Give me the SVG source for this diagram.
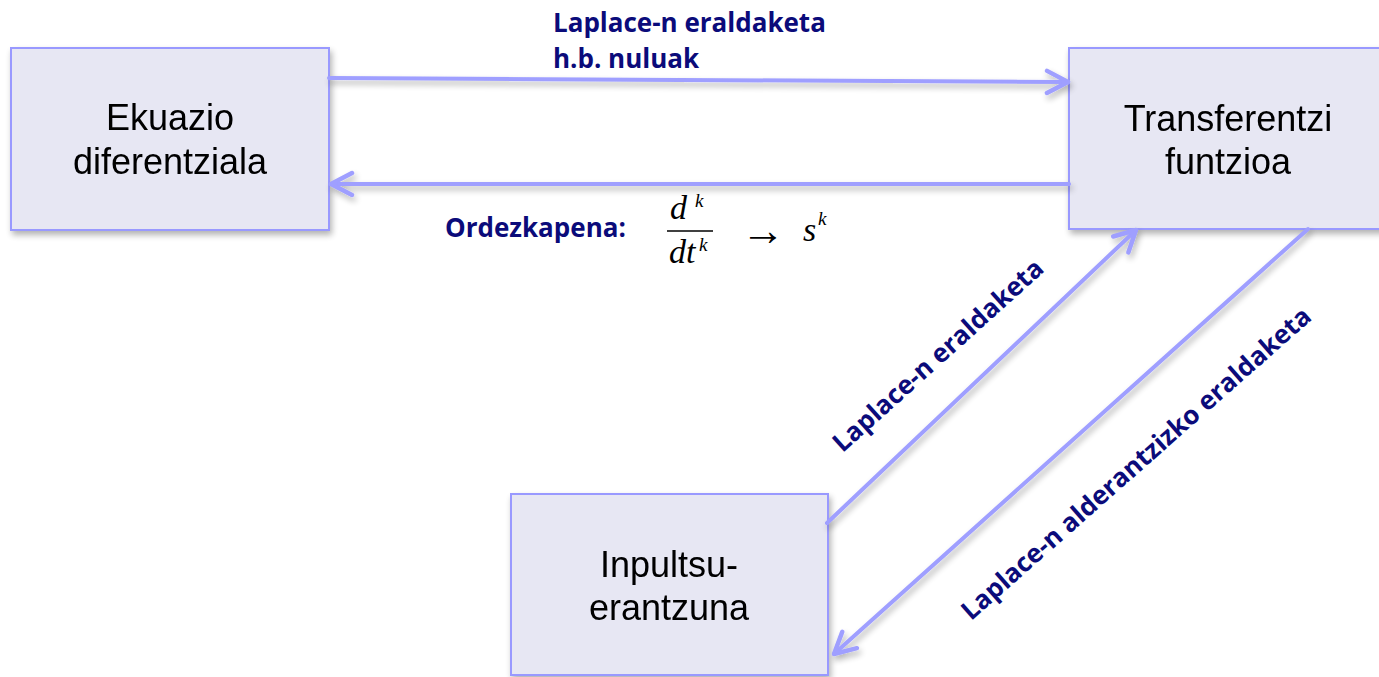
<svg xmlns="http://www.w3.org/2000/svg" width="1379" height="677" viewBox="0 0 1379 677">
  <defs>
    <style>
      .box { fill: #e7e7f3; stroke: #9999ff; stroke-width: 2; }
      .node-text { font-family: "Liberation Sans", Arial, sans-serif; font-size: 36px; fill: #000; text-anchor: middle; }
      .edge { stroke: #9f9fff; stroke-width: 4; stroke-linecap: round; fill: none; marker-end: url(#chevron); }
      .label { font-family: "Open Sans", "Liberation Sans", sans-serif; font-weight: bold; font-size: 26px; fill: #0b0b7a; }
      .math { font-family: "Liberation Serif", "Times New Roman", serif; font-style: italic; fill: #000; }
    </style>
    <filter id="shadow" x="-10%" y="-10%" width="130%" height="140%">
      <feGaussianBlur in="SourceAlpha" stdDeviation="3"/>
      <feOffset dx="2" dy="4" result="off"/>
      <feComponentTransfer><feFuncA type="linear" slope="0.3"/></feComponentTransfer>
      <feMerge><feMergeNode/><feMergeNode in="SourceGraphic"/></feMerge>
    </filter>
    <marker id="chevron" viewBox="0 0 28 28" markerWidth="28" markerHeight="28" refX="25" refY="14" orient="auto" markerUnits="userSpaceOnUse">
      <path d="M4,3 L25,14 L4,25" fill="none" stroke="#9f9fff" stroke-width="4.5" stroke-linecap="round" stroke-linejoin="round"/>
    </marker>
  </defs>

  <rect width="1379" height="677" fill="#fff"/>

  <!-- Nodes -->
  <g id="ekuazio" filter="url(#shadow)">
    <rect class="box" x="11" y="48" width="318" height="182"/>
    <text class="node-text" x="170" y="130">Ekuazio</text>
    <text class="node-text" x="170" y="174">diferentziala</text>
  </g>

  <g id="transferentzi" filter="url(#shadow)">
    <rect class="box" x="1069" y="48" width="318" height="181"/>
    <text class="node-text" x="1228" y="131">Transferentzi</text>
    <text class="node-text" x="1228" y="174">funtzioa</text>
  </g>

  <g id="inpultsu" filter="url(#shadow)">
    <rect class="box" x="511" y="494" width="317" height="181"/>
    <text class="node-text" x="669" y="577">Inpultsu-</text>
    <text class="node-text" x="669" y="620">erantzuna</text>
  </g>

  <!-- Connectors -->
  <g id="connectors" filter="url(#shadow)">
    <line class="edge" x1="329" y1="78" x2="1068" y2="82"/>
    <line class="edge" x1="1069" y1="184" x2="331" y2="184"/>
    <line class="edge" x1="827" y1="523" x2="1136" y2="230"/>
    <line class="edge" x1="1308" y1="229" x2="834" y2="654"/>
  </g>

  <!-- Connector labels -->
  <g id="labels">
    <text class="label" x="553" y="32">Laplace-n eraldaketa</text>
    <text class="label" x="553" y="68">h.b. nuluak</text>
    <text class="label" x="445" y="237">Ordezkapena:</text>
    <text class="label" text-anchor="middle" transform="translate(944 362) rotate(-42)">Laplace-n eraldaketa</text>
    <text class="label" text-anchor="middle" transform="translate(1142 470) rotate(-41.5)">Laplace-n alderantzizko eraldaketa</text>
  </g>

  <!-- Substitution rule d^k/dt^k -> s^k -->
  <g id="substitution">
    <text class="math" x="670" y="219" font-size="34">d</text>
    <text class="math" x="695" y="207" font-size="19">k</text>
    <line x1="667" y1="231" x2="713" y2="231" stroke="#000" stroke-width="1.5"/>
    <text class="math" x="669" y="263" font-size="34">dt</text>
    <text class="math" x="699" y="251" font-size="19">k</text>
    <text x="741" y="245" font-family="Liberation Serif, serif" font-size="44" fill="#000">→</text>
    <text class="math" x="803" y="241" font-size="34">s</text>
    <text class="math" x="818" y="225" font-size="19">k</text>
  </g>
</svg>
